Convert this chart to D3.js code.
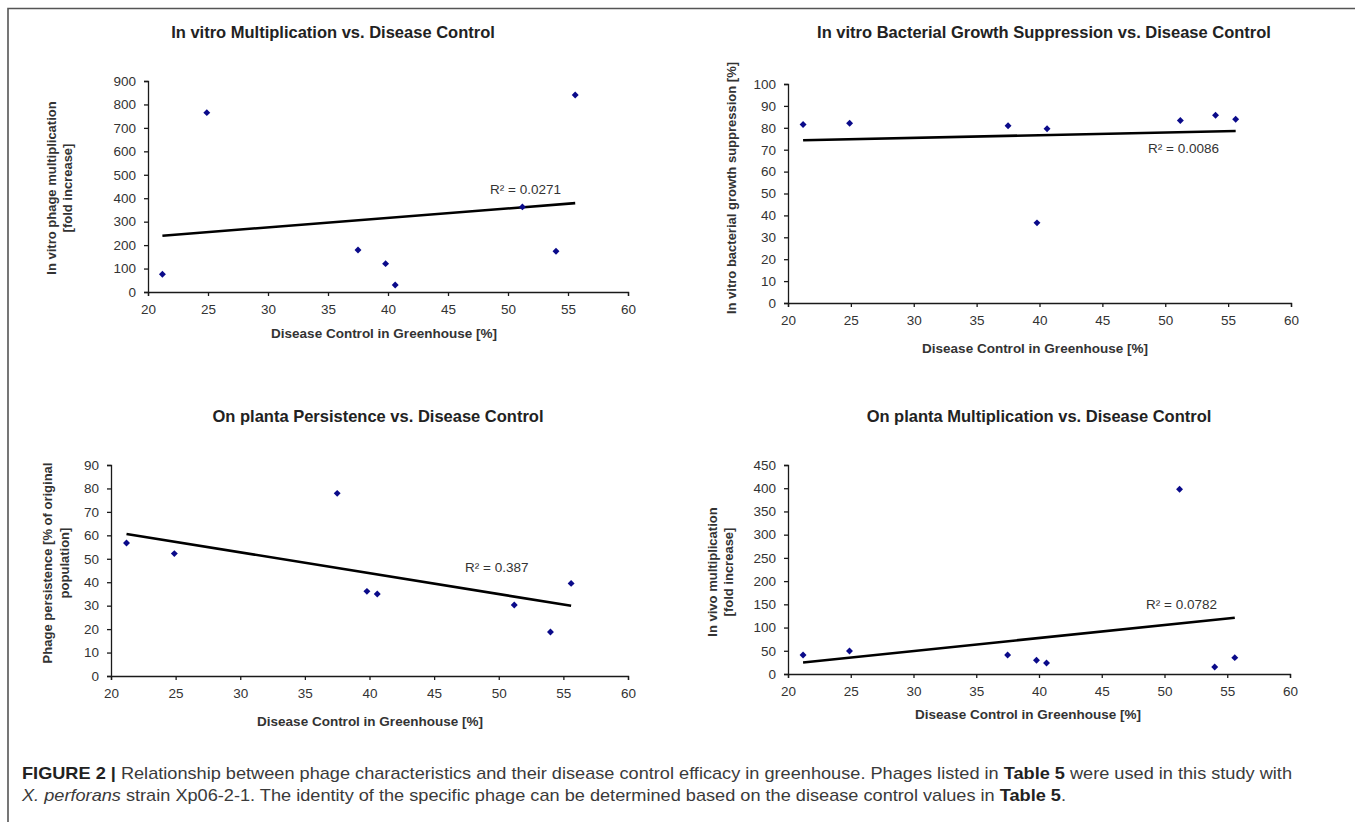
<!DOCTYPE html>
<html>
<head>
<meta charset="utf-8">
<script src="https://cdn.jsdelivr.net/npm/d3@7"></script>
<style>
  html, body { margin: 0; padding: 0; background: #fff; }
  svg { display: block; }
  text { font-family: "Liberation Sans", Arial, Helvetica, sans-serif; }
</style>
</head>
<body>
<svg id="chart" width="1355" height="822"></svg>
<script>
// ---------------- DATA ----------------
const diseaseControl = [21.2, 24.9, 37.5, 39.8, 40.6, 51.2, 54.0, 55.6];
const vitroMultiplication = [76, 765, 179, 121, 30, 363, 174, 840];
const growthSuppression = [81.5, 82.1, 80.9, 36.6, 79.6, 83.3, 85.7, 83.9];
const plantaPersistence = [56.7, 52.2, 77.9, 36.1, 35.0, 30.3, 18.8, 39.5];
const plantaMultiplication = [41, 49.6, 41, 29.5, 23.7, 397.6, 15.1, 35.2];

const xTicks = [20, 25, 30, 35, 40, 45, 50, 55, 60];
const yTicks1 = [0, 100, 200, 300, 400, 500, 600, 700, 800, 900];
const yTicks2 = [0, 10, 20, 30, 40, 50, 60, 70, 80, 90, 100];
const yTicks3 = [0, 10, 20, 30, 40, 50, 60, 70, 80, 90];
const yTicks4 = [0, 50, 100, 150, 200, 250, 300, 350, 400, 450];

const panelTitles = [
  "In vitro Multiplication vs. Disease Control",
  "In vitro Bacterial Growth Suppression vs. Disease Control",
  "On planta Persistence vs. Disease Control",
  "On planta Multiplication vs. Disease Control"
];
const yAxisLabels = [
  ["In vitro phage multiplication", "[fold increase]"],
  ["In vitro bacterial growth suppression [%]"],
  ["Phage persistence [% of original", "population]"],
  ["In vivo multiplication", "[fold increase]"]
];
const xAxisLabel = "Disease Control in Greenhouse [%]";
const r2Labels = ["R\u00B2 = 0.0271", "R\u00B2 = 0.0086", "R\u00B2 = 0.387", "R\u00B2 = 0.0782"];

// ---------------- LAYOUT ----------------
const panels = [
  { ys: vitroMultiplication, yTicks: yTicks1, L: 148, R: 628, T: 81, B: 292,
    title: [333, 38], xt: [384, 338], yl: [[51, 188], [67, 188]], r2: [490, 194] },
  { ys: growthSuppression, yTicks: yTicks2, L: 788, R: 1291, T: 84, B: 303,
    title: [1044, 38], xt: [1035, 353], yl: [[731, 188]], r2: [1148, 153] },
  { ys: plantaPersistence, yTicks: yTicks3, L: 111, R: 628, T: 465, B: 676,
    title: [378, 422], xt: [370, 726], yl: [[47, 563], [64, 563]], r2: [465, 572] },
  { ys: plantaMultiplication, yTicks: yTicks4, L: 788, R: 1290, T: 465, B: 674,
    title: [1039, 422], xt: [1028, 719], yl: [[712, 572], [728, 572]], r2: [1146, 609] }
];

const svg = d3.select("#chart");
const textCol = "#333";

// figure frame
svg.append("path")
  .attr("d", "M8,822 L8,8.5 L1355,8.5")
  .attr("fill", "none").attr("stroke", "#555").attr("stroke-width", 1.6);

panels.forEach((p, i) => {
  const x = d3.scaleLinear().domain([xTicks[0], xTicks[xTicks.length - 1]]).range([p.L, p.R]);
  const y = d3.scaleLinear().domain([p.yTicks[0], p.yTicks[p.yTicks.length - 1]]).range([p.B, p.T]);
  const g = svg.append("g");

  // axes
  const xa = g.append("g").attr("transform", `translate(0,${p.B})`)
    .call(d3.axisBottom(x).tickValues(xTicks).tickSizeOuter(0).tickSize(4).tickPadding(6));
  const ya = g.append("g").attr("transform", `translate(${p.L},0)`)
    .call(d3.axisLeft(y).tickValues(p.yTicks).tickSizeOuter(0).tickSize(4).tickPadding(8));
  [xa, ya].forEach(a => {
    a.selectAll("path, line").attr("stroke", "#1a1a1a").attr("stroke-width", 1.3);
    a.selectAll("text").attr("fill", textCol).style("font-size", "13.5px")
      .style("font-family", "'Liberation Sans', Arial, sans-serif");
  });
  xa.selectAll("text").attr("dy", "0.88em");

  // regression trend line from data
  const xs = diseaseControl, ys = p.ys, n = xs.length;
  const mx = d3.mean(xs), my = d3.mean(ys);
  let sxy = 0, sxx = 0;
  for (let k = 0; k < n; k++) { sxy += (xs[k] - mx) * (ys[k] - my); sxx += (xs[k] - mx) ** 2; }
  const slope = sxy / sxx, icpt = my - slope * mx;
  const x0 = d3.min(xs), x1 = d3.max(xs);
  g.append("line")
    .attr("x1", x(x0)).attr("y1", y(icpt + slope * x0))
    .attr("x2", x(x1)).attr("y2", y(icpt + slope * x1))
    .attr("stroke", "#000").attr("stroke-width", 2.6);

  // points
  g.selectAll("path.pt").data(xs.map((v, k) => [v, ys[k]])).enter().append("path")
    .attr("class", "pt")
    .attr("d", d3.symbol().type(d3.symbolSquare).size(24))
    .attr("transform", d => `translate(${x(d[0])},${y(d[1])}) rotate(45)`)
    .attr("fill", "#0a0a8a");

  // title
  g.append("text").attr("x", p.title[0]).attr("y", p.title[1])
    .attr("text-anchor", "middle").attr("fill", "#222")
    .style("font-size", "16.5px").style("font-weight", "bold")
    .text(panelTitles[i]);

  // x axis title
  g.append("text").attr("x", p.xt[0]).attr("y", p.xt[1])
    .attr("text-anchor", "middle").attr("fill", textCol)
    .style("font-size", "13.5px").style("font-weight", "bold")
    .text(xAxisLabel);

  // y axis title(s)
  yAxisLabels[i].forEach((lbl, k) => {
    g.append("text")
      .attr("transform", `translate(${p.yl[k][0]},${p.yl[k][1]}) rotate(-90)`)
      .attr("text-anchor", "middle").attr("dy", "0.35em").attr("fill", textCol)
      .style("font-size", "13px").style("font-weight", "bold")
      .text(lbl);
  });

  // R² label
  g.append("text").attr("x", p.r2[0]).attr("y", p.r2[1])
    .attr("fill", textCol).style("font-size", "13.5px")
    .text(r2Labels[i]);
});

// ---------------- CAPTION ----------------
const captionLines = [
  [["FIGURE 2 | ", "bold"], ["Relationship between phage characteristics and their disease control efficacy in greenhouse. Phages listed in ", ""], ["Table 5", "bold"], [" were used in this study with", ""]],
  [["X. perforans", "italic"], [" strain Xp06-2-1. The identity of the specific phage can be determined based on the disease control values in ", ""], ["Table 5", "bold"], [".", ""]]
];
const capLayout = [{ y: 779, w: 1270 }, { y: 801, w: 1044 }];
captionLines.forEach((parts, li) => {
  const t = svg.append("text").attr("x", 22).attr("y", capLayout[li].y)
    .attr("fill", "#3a3a3a").style("font-size", "17px")
    .attr("textLength", capLayout[li].w).attr("lengthAdjust", "spacingAndGlyphs")
    .style("font-family", "'Liberation Sans', Arial, sans-serif");
  parts.forEach(([s, st]) => {
    const ts = t.append("tspan").text(s);
    if (st === "bold") ts.style("font-weight", "bold").attr("fill", "#222");
    if (st === "italic") ts.style("font-style", "italic");
  });
});
</script>
</body>
</html>
